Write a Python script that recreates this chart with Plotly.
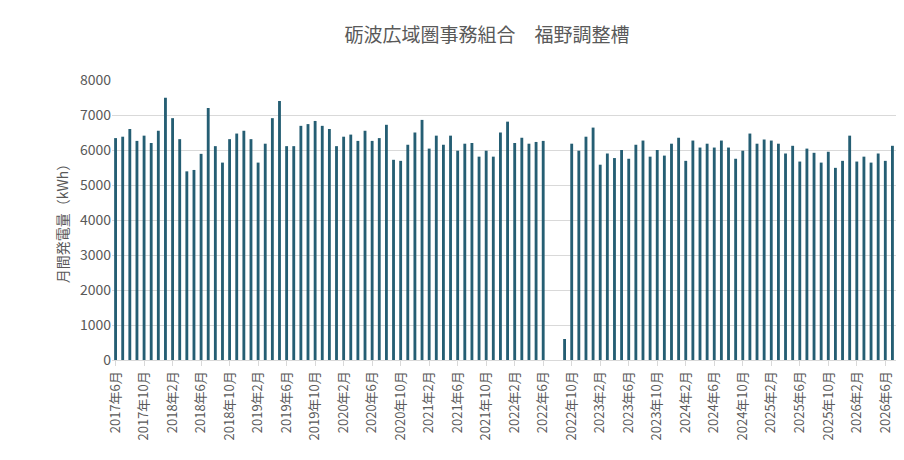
import plotly.graph_objects as go

start_year, start_month = 2017, 6
values = [6340,6380,6600,6260,6410,6200,6550,7490,6910,6310,5390,5430,5890,7200,6110,5640,
6310,6470,6550,6310,5640,6180,6910,7400,6110,6110,6690,6740,6830,6690,6600,6110,
6380,6440,6260,6550,6260,6340,6720,5720,5690,6150,6500,6860,6040,6410,6150,6410,
5980,6180,6200,5810,5980,5810,6500,6810,6200,6350,6180,6230,6260,0,0,600,
6180,5980,6380,6640,5580,5900,5770,6000,5750,6150,6270,5810,6000,5840,6180,6350,
5690,6270,6070,6180,6070,6270,6070,5750,5980,6470,6180,6300,6270,6180,5900,6120,
5670,6040,5920,5640,5950,5490,5690,6410,5670,5810,5640,5900,5690,6120]

months = []
y, m = start_year, start_month
for _ in values:
    months.append(f"{y}年{m}月")
    m += 1
    if m > 12:
        m = 1; y += 1
tick_labels = months[::4]

fig = go.Figure(go.Bar(x=months, y=values, marker_color="#255e73", marker_line_width=0))
fig.update_layout(
    width=904, height=460, bargap=0.6,
    margin=dict(l=104, r=16, t=72, b=108),
    paper_bgcolor="white", plot_bgcolor="white",
    font=dict(family="Noto Sans CJK JP", color="#595959", size=13),
    title=dict(text="砺波広域圏事務組合　福野調整槽", x=0.53, xanchor="center", y=0.955,
               font=dict(size=19, color="#595959")),
    showlegend=False,
)
fig.update_xaxes(type="category", tickvals=tick_labels, ticktext=tick_labels, tickangle=-90,
                 showline=True, linecolor="#d9d9d9", ticks="outside", tickcolor="#d9d9d9",
                 ticklen=5, showgrid=False, tickfont=dict(size=13), automargin=False)
fig.update_yaxes(range=[0, 8000], dtick=1000, showgrid=True, gridcolor="#d9d9d9",
                 title=dict(text="月間発電量（kWh）", standoff=8, font=dict(size=14)),
                 tickfont=dict(size=14), zeroline=False, automargin=False)
fig.write_html("out.html")
